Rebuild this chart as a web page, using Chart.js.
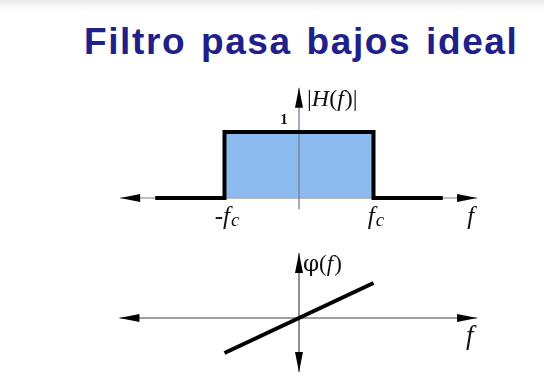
<!DOCTYPE html>
<html>
<head>
<meta charset="utf-8">
<script src="https://cdn.jsdelivr.net/npm/chart.js@4.4.1/dist/chart.umd.min.js"></script>
<style>
  html, body { margin: 0; padding: 0; background: #fff; }
  body { width: 544px; height: 387px; position: relative; overflow: hidden;
         background: linear-gradient(#e9e9e9 0px, #f7f7f7 6px, #fff 12px); }
  #title { position: absolute; left: 84px; top: 21px; margin: 0;
           font: bold 37px "Liberation Sans", Arial, sans-serif;
           color: #20208a; white-space: nowrap; letter-spacing: 1.6px; word-spacing: 3px; }
  #plot { position: absolute; left: 0; top: 0; }
</style>
</head>
<body>
<h1 id="title">Filtro pasa bajos ideal</h1>
<canvas id="plot" width="544" height="387"></canvas>
<script>
// ---------------- Data ----------------
// |H(f)| : ideal low-pass, cut-off at fc = 1
const magF = [-1.93, -1, -1, 1, 1, 1.93];
const magH = [0, 0, 1, 1, 0, 0];
// phase : linear between -fc and fc
const phaseF = [-1, 1];
const phaseV = [-1, 1];
// tick labels on the frequency axis
const tickVals = [-1, 1];
const tickLabels = ['-f', 'f'];
const tickSubs = ['c', 'c'];

const toXY = (xs, ys) => xs.map((x, i) => ({ x: x, y: ys[i] }));

// ---------------- Helpers ----------------
function arrowHead(ctx, x, y, ang, len, half) {
    ctx.save();
    ctx.translate(x, y);
    ctx.rotate(ang);
    ctx.beginPath();
    ctx.moveTo(0, 0);
    ctx.lineTo(-len, -half);
    ctx.lineTo(-len, half);
    ctx.closePath();
    ctx.fillStyle = '#000';
    ctx.fill();
    ctx.restore();
}

function axisLine(ctx, x1, y1, x2, y2, color, w, arrowStart, arrowEnd) {
    ctx.save();
    ctx.strokeStyle = color;
    ctx.lineWidth = w;
    ctx.beginPath();
    ctx.moveTo(x1, y1);
    ctx.lineTo(x2, y2);
    ctx.stroke();
    ctx.restore();
    const ang = Math.atan2(y2 - y1, x2 - x1);
    if (arrowEnd) arrowHead(ctx, x2, y2, ang, 20, 4);
    if (arrowStart) arrowHead(ctx, x1, y1, ang + Math.PI, 20, 4);
}

function mathLabel(ctx, main, sub, x, y, size, align) {
    ctx.save();
    ctx.fillStyle = '#111';
    ctx.textBaseline = 'alphabetic';
    ctx.font = 'italic ' + size + 'px "Liberation Serif", serif';
    const wMain = ctx.measureText(main).width;
    ctx.font = 'italic ' + Math.round(size * 0.75) + 'px "Liberation Serif", serif';
    const wSub = sub ? ctx.measureText(sub).width : 0;
    let left = x;
    if (align === 'center') left = x - (wMain + wSub) / 2;
    ctx.font = 'italic ' + size + 'px "Liberation Serif", serif';
    ctx.fillText(main, left, y);
    if (sub) {
        ctx.font = 'italic ' + Math.round(size * 0.75) + 'px "Liberation Serif", serif';
        ctx.fillText(sub, left + wMain + 1, y + 2);
    }
    ctx.restore();
}

// ---------------- Axes + labels plugin ----------------
const axesPlugin = {
    id: 'arrowAxes',
    beforeDatasetsDraw(chart) {
        const ctx = chart.ctx;
        const sx = chart.scales.x, sy = chart.scales.y, sp = chart.scales.yPhase;
        // top panel
        axisLine(ctx, sx.getPixelForValue(-2.4), sy.getPixelForValue(0),
                 sx.getPixelForValue(2.39), sy.getPixelForValue(0), '#a8a8a8', 1.5, true, true);
        axisLine(ctx, sx.getPixelForValue(0), sy.getPixelForValue(-0.17),
                 sx.getPixelForValue(0), sy.getPixelForValue(1.67), '#6f7f95', 1.3, false, true);
        // bottom panel
        axisLine(ctx, sx.getPixelForValue(-2.41), sp.getPixelForValue(0),
                 sx.getPixelForValue(2.39), sp.getPixelForValue(0), '#a0a0a0', 2, true, true);
        axisLine(ctx, sx.getPixelForValue(0), sp.getPixelForValue(-1.54),
                 sx.getPixelForValue(0), sp.getPixelForValue(1.86), '#909090', 2, true, true);
    },
    afterDraw(chart) {
        const ctx = chart.ctx;
        const sx = chart.scales.x, sy = chart.scales.y, sp = chart.scales.yPhase;
        const y0 = sy.getPixelForValue(0);
        tickVals.forEach((v, i) => {
            mathLabel(ctx, tickLabels[i], tickSubs[i], sx.getPixelForValue(v) + 2, y0 + 26, 25, 'center');
        });
        mathLabel(ctx, 'f', '', sx.getPixelForValue(2.26), y0 + 26, 25, 'left');
        mathLabel(ctx, 'f', '', sx.getPixelForValue(2.24), sp.getPixelForValue(0) + 26, 27, 'left');
        // |H(f)|
        ctx.save();
        ctx.fillStyle = '#111';
        const fs = 24;
        ctx.textBaseline = 'alphabetic';
        const xa = sx.getPixelForValue(0) + 8;
        const ya = sy.getPixelForValue(1.67) + 18;
        ctx.font = fs + 'px "Liberation Serif", serif';
        ctx.fillText('|', xa, ya);
        let w = ctx.measureText('|').width;
        ctx.font = 'italic ' + fs + 'px "Liberation Serif", serif';
        ctx.fillText('H', xa + w, ya);
        w += ctx.measureText('H').width;
        ctx.font = fs + 'px "Liberation Serif", serif';
        ctx.fillText('(', xa + w, ya);
        w += ctx.measureText('(').width;
        ctx.font = 'italic ' + fs + 'px "Liberation Serif", serif';
        ctx.fillText('f', xa + w, ya);
        w += ctx.measureText('f').width + 1;
        ctx.font = fs + 'px "Liberation Serif", serif';
        ctx.fillText(')|', xa + w, ya);
        // 1
        ctx.font = 'bold 15px "Liberation Serif", serif';
        ctx.textAlign = 'center';
        ctx.fillText('1', sx.getPixelForValue(-0.2), sy.getPixelForValue(1) - 8);
        // phi(f)
        ctx.textAlign = 'left';
        const xp = sx.getPixelForValue(0) + 4;
        const yp = sp.getPixelForValue(1.86) + 18;
        ctx.font = '23px "DejaVu Serif", serif';
        ctx.fillText('φ', xp, yp);
        let wp = ctx.measureText('φ').width;
        ctx.font = '23px "Liberation Serif", serif';
        ctx.fillText('(', xp + wp, yp);
        wp += ctx.measureText('(').width;
        ctx.font = 'italic 23px "Liberation Serif", serif';
        ctx.fillText('f', xp + wp, yp);
        wp += ctx.measureText('f').width + 1;
        ctx.font = '23px "Liberation Serif", serif';
        ctx.fillText(')', xp + wp, yp);
        ctx.restore();
    }
};

// ---------------- Chart ----------------
const ctx = document.getElementById('plot').getContext('2d');
new Chart(ctx, {
    type: 'scatter',
    data: {
        datasets: [
            {
                label: '|H(f)|',
                data: toXY(magF, magH),
                showLine: true,
                yAxisID: 'y',
                borderColor: '#000',
                borderWidth: 4,
                borderJoinStyle: 'miter',
                borderCapStyle: 'butt',
                backgroundColor: '#8cbcef',
                fill: 'origin',
                pointRadius: 0,
                tension: 0
            },
            {
                label: 'phase',
                data: toXY(phaseF, phaseV),
                showLine: true,
                yAxisID: 'yPhase',
                borderColor: '#000',
                borderWidth: 4,
                borderCapStyle: 'butt',
                pointRadius: 0,
                fill: false
            }
        ]
    },
    options: {
        responsive: false,
        animation: false,
        layout: { padding: 0 },
        plugins: {
            legend: { display: false },
            tooltip: { enabled: false },
            filler: { drawTime: 'beforeDatasetsDraw' }
        },
        scales: {
            x: { type: 'linear', display: false, min: -299 / 74.5, max: 245 / 74.5 },
            y: { type: 'linear', display: false, min: -189 / 66, max: 198 / 66 },
            yPhase: { type: 'linear', display: false, min: -69 / 35, max: 318 / 35 }
        }
    },
    plugins: [axesPlugin]
});
</script>
</body>
</html>
